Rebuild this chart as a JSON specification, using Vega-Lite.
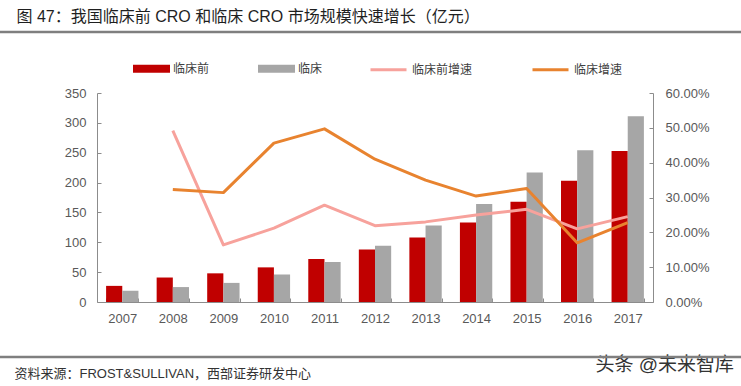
{
  "$schema": "https://vega.github.io/schema/vega-lite/v6.json",
  "width": 741,
  "height": 386,
  "autosize": {"type": "none"},
  "padding": 0,
  "background": "#ffffff",
  "config": {
    "view": {"stroke": null},
    "font": "Liberation Sans, Noto Sans CJK SC",
    "axis": {
      "grid": false,
      "labelFont": "Liberation Sans, Noto Sans CJK SC",
      "labelFontSize": 13,
      "labelColor": "#595959",
      "domainColor": "#8c8c8c",
      "tickColor": "#8c8c8c",
      "domainWidth": 1,
      "tickWidth": 1
    },
    "legend": {
      "labelFont": "Liberation Sans, Noto Sans CJK SC",
      "labelFontSize": 12,
      "labelColor": "#404040"
    }
  },
  "datasets": {
    "bars": [
      {"year": "2007", "series": "临床前", "value": 27},
      {"year": "2007", "series": "临床", "value": 19},
      {"year": "2008", "series": "临床前", "value": 41},
      {"year": "2008", "series": "临床", "value": 25},
      {"year": "2009", "series": "临床前", "value": 48},
      {"year": "2009", "series": "临床", "value": 32},
      {"year": "2010", "series": "临床前", "value": 58},
      {"year": "2010", "series": "临床", "value": 46},
      {"year": "2011", "series": "临床前", "value": 72},
      {"year": "2011", "series": "临床", "value": 67},
      {"year": "2012", "series": "临床前", "value": 88},
      {"year": "2012", "series": "临床", "value": 94},
      {"year": "2013", "series": "临床前", "value": 108},
      {"year": "2013", "series": "临床", "value": 128},
      {"year": "2014", "series": "临床前", "value": 133},
      {"year": "2014", "series": "临床", "value": 164},
      {"year": "2015", "series": "临床前", "value": 168},
      {"year": "2015", "series": "临床", "value": 217},
      {"year": "2016", "series": "临床前", "value": 203},
      {"year": "2016", "series": "临床", "value": 254},
      {"year": "2017", "series": "临床前", "value": 253},
      {"year": "2017", "series": "临床", "value": 311}
    ],
    "lines": [
      {"year": "2008", "series": "临床前增速", "rate": 0.492},
      {"year": "2009", "series": "临床前增速", "rate": 0.164},
      {"year": "2010", "series": "临床前增速", "rate": 0.212},
      {"year": "2011", "series": "临床前增速", "rate": 0.278},
      {"year": "2012", "series": "临床前增速", "rate": 0.219},
      {"year": "2013", "series": "临床前增速", "rate": 0.230},
      {"year": "2014", "series": "临床前增速", "rate": 0.250},
      {"year": "2015", "series": "临床前增速", "rate": 0.266},
      {"year": "2016", "series": "临床前增速", "rate": 0.210},
      {"year": "2017", "series": "临床前增速", "rate": 0.245},
      {"year": "2008", "series": "临床增速", "rate": 0.323},
      {"year": "2009", "series": "临床增速", "rate": 0.314},
      {"year": "2010", "series": "临床增速", "rate": 0.456},
      {"year": "2011", "series": "临床增速", "rate": 0.497},
      {"year": "2012", "series": "临床增速", "rate": 0.410},
      {"year": "2013", "series": "临床增速", "rate": 0.350},
      {"year": "2014", "series": "临床增速", "rate": 0.304},
      {"year": "2015", "series": "临床增速", "rate": 0.326},
      {"year": "2016", "series": "临床增速", "rate": 0.170},
      {"year": "2017", "series": "临床增速", "rate": 0.228}
    ],
    "separators": [
      {"name": "top", "level": 452},
      {"name": "bottom", "level": -92}
    ]
  },
  "layer": [
    {
      "layer": [
        {
          "data": {"name": "separators"},
          "mark": {"type": "rule", "color": "#7f7f7f", "strokeWidth": 2.5},
          "encoding": {
            "y": {"field": "level", "type": "quantitative"}
          }
        },
        {
          "data": {"name": "bars"},
          "mark": {"type": "bar"},
          "encoding": {
            "x": {
              "field": "year",
              "type": "nominal",
              "sort": null,
              "scale": {"range": [97, 653], "paddingInner": 0.36, "paddingOuter": 0.18},
              "axis": {
                "orient": "bottom",
                "offset": -84,
                "labelAngle": 0,
                "tickBand": "extent",
                "tickSize": -4,
                "labelPadding": 14,
                "title": "资料来源：FROST&SULLIVAN，西部证券研发中心",
                "titleX": 14,
                "titleY": 71,
                "titleAlign": "left",
                "titleAnchor": null,
                "titleBaseline": "middle",
                "titleFont": "Liberation Sans, Noto Sans CJK SC",
                "titleFontSize": 13,
                "titleFontWeight": "normal",
                "titleColor": "#333333"
              }
            },
            "xOffset": {
              "field": "series",
              "type": "nominal",
              "sort": ["临床前", "临床"],
              "scale": {"paddingInner": 0, "paddingOuter": 0}
            },
            "y": {
              "field": "value",
              "type": "quantitative",
              "scale": {"domain": [0, 350], "range": [302, 93], "nice": false, "zero": true},
              "axis": {
                "orient": "left",
                "offset": -97,
                "values": [0, 50, 100, 150, 200, 250, 300, 350],
                "tickSize": -4,
                "labelPadding": 15,
                "title": "图 47：我国临床前 CRO 和临床 CRO 市场规模快速增长（亿元）",
                "titleX": -81,
                "titleY": 16,
                "titleAngle": 0,
                "titleAlign": "left",
                "titleAnchor": null,
                "titleBaseline": "middle",
                "titleFont": "Liberation Sans, Noto Sans CJK SC",
                "titleFontSize": 16,
                "titleFontWeight": "normal",
                "titleColor": "#1f1f1f"
              }
            },
            "color": {
              "field": "series",
              "type": "nominal",
              "scale": {"domain": ["临床前", "临床"], "range": ["#C00000", "#A6A6A6"]},
              "legend": {
                "orient": "none",
                "legendX": 133,
                "legendY": 50,
                "direction": "horizontal",
                "title": null,
                "symbolType": "M-1,-0.22H1V0.22H-1Z",
                "symbolSize": 1369,
                "symbolStrokeWidth": 0,
                "labelOffset": 3,
                "columnPadding": 48
              }
            }
          }
        }
      ]
    },
    {
      "data": {"name": "lines"},
      "mark": {"type": "line", "strokeWidth": 3, "strokeJoin": "round"},
      "encoding": {
        "x": {"field": "year", "type": "nominal", "sort": null},
        "y": {
          "field": "rate",
          "type": "quantitative",
          "scale": {"domain": [0, 0.6], "range": [302, 93], "nice": false},
          "axis": {
            "orient": "right",
            "offset": -88,
            "format": ".2%",
            "values": [0, 0.1, 0.2, 0.3, 0.4, 0.5, 0.6],
            "tickSize": -4,
            "labelPadding": 16,
            "title": "头条 @未来智库",
            "titleX": -58,
            "titleY": 364,
            "titleAngle": 0,
            "titleAlign": "left",
            "titleAnchor": null,
            "titleBaseline": "middle",
            "titleFont": "Liberation Sans, Noto Sans CJK SC",
            "titleFontSize": 19,
            "titleFontWeight": "normal",
            "titleColor": "#333333"
          }
        },
        "stroke": {
          "field": "series",
          "type": "nominal",
          "scale": {"domain": ["临床前增速", "临床增速"], "range": ["#F7A29C", "#E8832F"]},
          "legend": {
            "orient": "none",
            "legendX": 369,
            "legendY": 50,
            "direction": "horizontal",
            "title": null,
            "symbolType": "stroke",
            "symbolSize": 1296,
            "symbolStrokeWidth": 3,
            "labelOffset": 4,
            "columnPadding": 53
          }
        }
      }
    }
  ],
  "resolve": {"scale": {"y": "independent"}}
}
